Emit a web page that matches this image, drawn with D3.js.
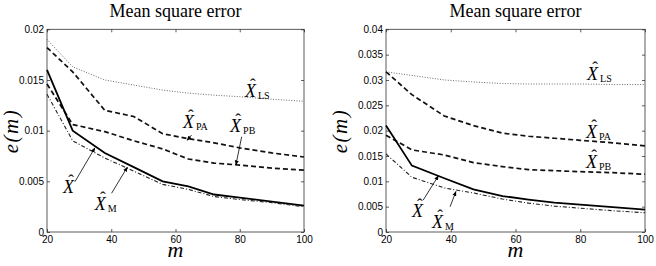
<!DOCTYPE html>
<html>
<head>
<meta charset="utf-8">
<script src="https://cdn.jsdelivr.net/npm/d3@7/dist/d3.min.js"></script>
<style>
  body { margin: 0; background: #fff; }
  svg { display: block; }
</style>
</head>
<body>
<svg id="chart" width="656" height="266"></svg>
<script>
// sample points along m (shared by both panels)
var mValues = [20, 28, 38, 47, 56, 64, 72, 80, 90, 100];
var xTicks = [20, 40, 60, 80, 100];

// left panel
var leftYTicks = [0, 0.005, 0.01, 0.015, 0.02];
var leftLS = [0.0190, 0.0163, 0.0150, 0.0145, 0.0140, 0.0137, 0.0135, 0.01335, 0.0131, 0.0129];
var leftPA = [0.0182, 0.0158, 0.0120, 0.0114, 0.0097, 0.0092, 0.0088, 0.0083, 0.0078, 0.0074];
var leftPB = [0.0146, 0.0106, 0.0099, 0.0090, 0.0082, 0.0072, 0.0068, 0.0066, 0.0063, 0.0061];
var leftX  = [0.0160, 0.0100, 0.0078, 0.0064, 0.0050, 0.0045, 0.0037, 0.0034, 0.0030, 0.0026];
var leftXM = [0.0136, 0.0090, 0.0073, 0.0060, 0.0047, 0.0042, 0.0035, 0.0032, 0.0029, 0.0025];

// right panel
var rightYTicks = [0, 0.005, 0.01, 0.015, 0.02, 0.025, 0.03, 0.035, 0.04];
var rightLS = [0.0316, 0.0309, 0.0300, 0.0296, 0.0293, 0.0292, 0.0292, 0.0292, 0.0291, 0.0291];
var rightPA = [0.0316, 0.0271, 0.0229, 0.0210, 0.0195, 0.0189, 0.0185, 0.0181, 0.0176, 0.0170];
var rightPB = [0.0191, 0.0162, 0.0152, 0.0137, 0.0129, 0.0123, 0.0121, 0.0119, 0.0117, 0.0114];
var rightX  = [0.0210, 0.0131, 0.0106, 0.0084, 0.0071, 0.0064, 0.0058, 0.0054, 0.0049, 0.0044];
var rightXM = [0.0154, 0.0108, 0.0087, 0.0077, 0.0065, 0.0057, 0.0051, 0.0047, 0.0042, 0.0038];

var seriesNames = ['LS', 'PA', 'PB', 'X', 'XM'];

// line styles per estimator
var styles = {
  LS: { width: 0.8, dash: '1,1.6', color: '#444' },
  PA: { width: 1.7, dash: '5,3', color: '#111' },
  PB: { width: 1.7, dash: '5,3', color: '#111' },
  X:  { width: 1.8, dash: null, color: '#000' },
  XM: { width: 1.1, dash: '4,2,1,2', color: '#222' }
};

// label spots, in data units (m, e); arrow: [from, to]
var leftLabels = [
  { sub: 'LS', m: 81.6, e: 0.01332 },
  { sub: 'PA', m: 62.3, e: 0.01026, arrow: [[65.0, 0.00957], [63.6, 0.00905]] },
  { sub: 'PB', m: 77.0, e: 0.00985, arrow: [[80.6, 0.00940], [78.8, 0.00662]] },
  { sub: '',   m: 25.0, e: 0.00385, arrow: [[28.7, 0.00496], [34.9, 0.00830]] },
  { sub: 'M',  m: 34.9, e: 0.00217, arrow: [[40.1, 0.00382], [45.0, 0.00640]] }
];
var rightLabels = [
  { sub: 'LS', m: 82.1, e: 0.0300 },
  { sub: 'PA', m: 81.8, e: 0.01855 },
  { sub: 'PB', m: 81.8, e: 0.01263 },
  { sub: '',   m: 28.0, e: 0.00296, arrow: [[31.5, 0.00631], [36.2, 0.01110]] },
  { sub: 'M',  m: 34.2, e: 0.00079, arrow: [[39.8, 0.00499], [41.6, 0.00800]] }
];

var serif = '"Liberation Serif", "Times New Roman", serif';
var svg = d3.select('#chart');

// arrowhead marker
svg.append('defs').append('marker')
  .attr('id', 'arrowhead')
  .attr('viewBox', '0 0 10 10')
  .attr('refX', 9).attr('refY', 5)
  .attr('markerWidth', 5).attr('markerHeight', 5)
  .attr('markerUnits', 'userSpaceOnUse')
  .attr('orient', 'auto')
  .append('path')
  .attr('d', 'M0,1 L10,5 L0,9 Z')
  .attr('fill', '#000');

var drawPanel = function (conf) {
  var xScale = d3.scaleLinear().domain([20, 100]).range([conf.left, conf.right]);
  var yScale = d3.scaleLinear().domain([0, conf.yMax]).range([232, 29.3]);
  var g = svg.append('g');

  // inward ticks on all four sides (matlab style)
  var fmt = function (d) { return d === 0 ? '0' : String(d); };
  var gl = g.append('g').attr('transform', 'translate(' + conf.left + ',0)')
    .call(d3.axisLeft(yScale).tickValues(conf.yTicks).tickFormat(fmt).tickSizeInner(-3).tickSizeOuter(0).tickPadding(3));
  var gb = g.append('g').attr('transform', 'translate(0,232)')
    .call(d3.axisBottom(xScale).tickValues(xTicks).tickFormat(d3.format('d')).tickSizeInner(-3).tickSizeOuter(0).tickPadding(4));
  var gr = g.append('g').attr('transform', 'translate(' + conf.right + ',0)')
    .call(d3.axisRight(yScale).tickValues(conf.yTicks).tickFormat('').tickSizeInner(-3).tickSizeOuter(0));
  var gt = g.append('g').attr('transform', 'translate(0,29.3)')
    .call(d3.axisTop(xScale).tickValues(xTicks).tickFormat('').tickSizeInner(-3).tickSizeOuter(0));

  [gl, gb, gr, gt].forEach(function (a) {
    a.select('.domain').remove();
    a.selectAll('line').attr('stroke', '#333').attr('stroke-width', 0.8);
    a.selectAll('text')
      .style('font-family', '"Liberation Sans", Arial, sans-serif')
      .style('font-size', '10px')
      .attr('fill', '#000');
  });

  g.append('rect')
    .attr('x', conf.left).attr('y', 29.3)
    .attr('width', conf.right - conf.left).attr('height', 232 - 29.3)
    .attr('fill', 'none').attr('stroke', '#333').attr('stroke-width', 0.8);

  // curves
  var lineGenerator = d3.line()
    .x(function (d) { return xScale(d[0]); })
    .y(function (d) { return yScale(d[1]); });

  seriesNames.forEach(function (name) {
    var st = styles[name];
    var pts = mValues.map(function (m, i) { return [m, conf.series[name][i]]; });
    g.append('path')
      .attr('d', lineGenerator(pts))
      .attr('fill', 'none')
      .attr('stroke', st.color)
      .attr('stroke-width', st.width)
      .attr('stroke-dasharray', st.dash);
  });

  // estimator labels with hats
  conf.labels.forEach(function (lab) {
    var px = xScale(lab.m), py = yScale(lab.e);
    g.append('text')
      .attr('x', px).attr('y', py)
      .style('font-family', serif)
      .style('font-style', 'italic')
      .style('font-size', '18px')
      .text('X');
    // hat over the X
    g.append('text')
      .attr('x', px + 8).attr('y', py - 7)
      .attr('text-anchor', 'middle')
      .style('font-family', serif)
      .style('font-size', '17px')
      .text('\u02C6');
    if (lab.sub) {
      g.append('text')
        .attr('x', px + 13).attr('y', py + 2)
        .style('font-family', serif)
        .style('font-size', '10px')
        .text(lab.sub);
    }
    if (lab.arrow) {
      g.append('line')
        .attr('x1', xScale(lab.arrow[0][0])).attr('y1', yScale(lab.arrow[0][1]))
        .attr('x2', xScale(lab.arrow[1][0])).attr('y2', yScale(lab.arrow[1][1]))
        .attr('stroke', '#000').attr('stroke-width', 0.8)
        .attr('marker-end', 'url(#arrowhead)');
    }
  });

  // title and axis labels
  var cx = (conf.left + conf.right) / 2;
  g.append('text')
    .attr('x', cx).attr('y', 17)
    .attr('text-anchor', 'middle')
    .style('font-family', serif)
    .style('font-size', '18px')
    .text('Mean square error');
  g.append('text')
    .attr('x', cx).attr('y', 257)
    .attr('text-anchor', 'middle')
    .style('font-family', serif)
    .style('font-style', 'italic')
    .style('font-size', '22px')
    .text('m');
  g.append('text')
    .attr('transform', 'translate(' + conf.yLabelX + ',131) rotate(-90)')
    .attr('text-anchor', 'middle')
    .style('font-family', serif)
    .style('font-style', 'italic')
    .style('font-size', '21px')
    .style('letter-spacing', '1.5px')
    .text('e(m)');
};

drawPanel({
  left: 47, right: 304, yMax: 0.02, yTicks: leftYTicks, yLabelX: 18,
  series: { LS: leftLS, PA: leftPA, PB: leftPB, X: leftX, XM: leftXM },
  labels: leftLabels
});
drawPanel({
  left: 386, right: 645, yMax: 0.04, yTicks: rightYTicks, yLabelX: 347,
  series: { LS: rightLS, PA: rightPA, PB: rightPB, X: rightX, XM: rightXM },
  labels: rightLabels
});
</script>
</body>
</html>
